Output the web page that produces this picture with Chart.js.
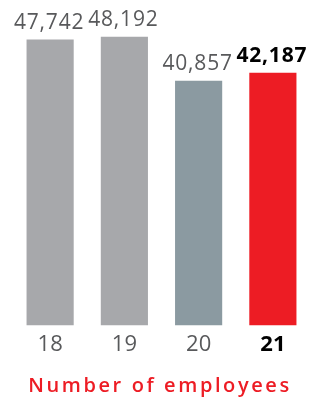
<!DOCTYPE html>
<html>
<head>
<meta charset="utf-8">
<script src="https://cdn.jsdelivr.net/npm/chart.js@4"></script>
<style>
  html, body { margin: 0; padding: 0; background: #fff; }
  canvas { display: block; }
</style>
</head>
<body>
<canvas id="barChart" width="320" height="400"></canvas>
<script>
// Chart data

const years = ['18', '19', '20', '21'];
const employees = [47742, 48192, 40857, 42187];
const chartTitle = 'Number of employees';

const barColors = ['#a7a8ab', '#a7a8ab', '#8b9aa1', '#ed1c24'];
const textGray = '#58595b';

// Value labels above bars + title under the axis

const valueLabels = {
    id: 'valueLabels',
    afterDatasetsDraw(chart) {
        const ctx = chart.ctx;
        const meta = chart.getDatasetMeta(0);
        ctx.save();
        ctx.textAlign = 'center';
        ctx.textBaseline = 'alphabetic';
        ctx.letterSpacing = '0.8px';
        meta.data.forEach((bar, i) => {
            const last = i === employees.length - 1;
            ctx.font = (last ? 'bold ' : '') + '21px "Open Sans"';
            ctx.fillStyle = last ? '#000' : textGray;
            ctx.fillText(employees[i].toLocaleString('en-US'), bar.x - 1, bar.y - 11);
        });
        ctx.restore();
    },
    afterDraw(chart) {
        const ctx = chart.ctx;
        ctx.save();
        ctx.font = '600 20px "Open Sans"';
        ctx.letterSpacing = '2.6px';
        ctx.fillStyle = '#ed1c24';
        ctx.textAlign = 'center';
        ctx.textBaseline = 'alphabetic';
        ctx.fillText(chartTitle, 160, 392);
        ctx.restore();
    }
};

const myBarChart = new Chart(document.getElementById('barChart'), {
    type: 'bar',
    data: {
        labels: years,
        datasets: [{
            label: chartTitle,
            data: employees,
            backgroundColor: barColors,
            borderWidth: 0,
            barPercentage: 0.635,
            categoryPercentage: 1,
        }]
    },
    options: {
        responsive: false,
        animation: false,
        layout: {
            padding: { top: 26, left: 13, right: 10, bottom: 36 }
        },
        plugins: {
            legend: { display: false },
            tooltip: { enabled: false },
        },
        scales: {
            y: {
                display: false,
                min: 0,
                max: 50000,
            },
            x: {
                grid: { display: false, drawTicks: false },
                border: { display: false },
                ticks: {
                    padding: 6,
                    color: (c) => c.index === 3 ? '#000' : textGray,
                    font: (c) => ({
                        family: '"Open Sans"',
                        size: 22,
                        weight: c.index === 3 ? 'bold' : 'normal',
                    }),
                },
            },
        },
    },
    plugins: [valueLabels],
});
</script>
</body>
</html>
